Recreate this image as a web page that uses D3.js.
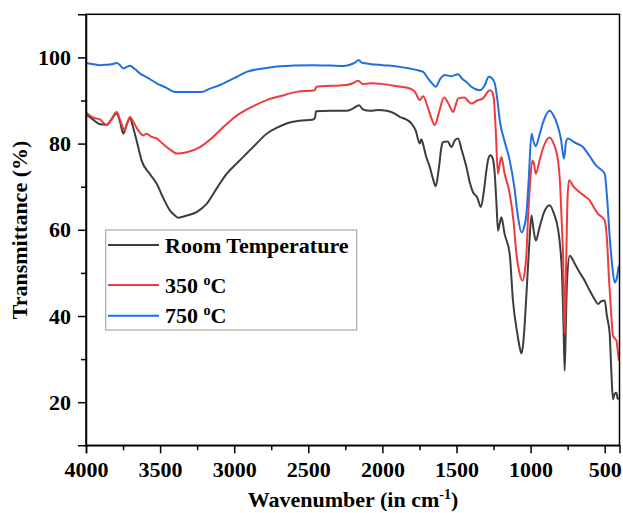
<!DOCTYPE html>
<html>
<head>
<meta charset="utf-8">
<script src="https://cdn.jsdelivr.net/npm/d3@7"></script>
<style>
  html, body { margin: 0; padding: 0; background: #fff; }
  svg { display: block; }
  text { font-family: "Liberation Serif", "Times New Roman", "DejaVu Serif", serif; font-weight: bold; fill: #000; }
</style>
</head>
<body>
<svg id="chart" width="623" height="513"></svg>
<script>
// ---- Data ----
const seriesNames = ["Room Temperature", "350 oC", "750 oC"];
const seriesColors = ["#3d3d3d", "#ef3b3d", "#1f6fe3"];

const rtWave = [4000,3950,3906,3860,3830,3793,3770,3748,3725,3703,3680,3650,3625,3570,3523,3480,3434,3400,3377,3320,3254,3186,3120,3051,2980,2916,2850,2781,2710,2647,2560,2467,2455,2448,2350,2242,2200,2157,2130,2085,2030,1972,1920,1883,1840,1804,1775,1748,1738,1730,1705,1680,1660,1640,1620,1600,1590,1560,1534,1510,1489,1465,1433,1410,1388,1360,1336,1315,1298,1285,1271,1255,1242,1230,1220,1208,1197,1175,1141,1119,1090,1075,1062,1050,1040,1028,1010,994,980,965,940,910,871,845,815,800,788,778,770,762,754,736,700,669,640,601,570,545,520,500,485,466,455,444,432,421,412,404];
const rtT = [86.8,85.5,84.5,84.4,85.5,87.0,85.0,82.3,84.5,85.8,83.5,79.5,76.1,73.0,70.7,67.5,64.5,63.3,62.8,63.3,64.1,66.0,69.5,73.0,75.5,77.7,80.0,82.3,83.7,84.65,85.3,85.6,86.0,87.5,87.6,87.6,88.1,88.9,87.9,87.6,87.8,87.6,87.0,86.2,85.6,84.65,83.0,80.0,81.0,80.4,77.0,74.55,72.0,70.1,74.0,79.5,80.4,80.5,79.2,80.8,81.2,78.5,74.55,71.0,68.7,67.5,65.3,69.0,73.8,76.5,77.3,76.5,73.0,66.0,59.8,61.5,62.9,59.0,54.4,43.6,36.0,33.0,31.3,33.5,38.0,45.0,56.0,63.3,60.0,57.5,60.5,64.0,65.7,64.0,60.2,56.0,49.8,38.0,27.3,38.0,48.2,54.0,52.0,50.1,48.5,45.9,44.0,42.8,43.5,43.6,40.0,35.8,27.0,20.7,22.0,22.2,20.8,21.1];

const t350Wave = [4000,3950,3906,3860,3830,3793,3770,3740,3720,3703,3680,3650,3614,3591,3560,3523,3490,3456,3420,3388,3320,3231,3160,3096,3030,2961,2870,2781,2680,2579,2456,2445,2340,2242,2200,2164,2132,2080,1995,1900,1815,1780,1748,1725,1690,1665,1647,1620,1584,1550,1523,1505,1489,1444,1420,1399,1360,1321,1300,1276,1260,1247,1235,1220,1210,1197,1175,1141,1115,1096,1075,1055,1040,1028,1018,1005,988,977,965,940,910,871,845,815,800,790,781,770,760,752,741,710,669,635,601,570,545,520,500,485,470,455,444,432,421,412,404];
const t350T = [87.2,86.0,85.6,84.3,85.6,87.35,85.5,83.1,85.0,86.2,85.0,83.2,81.9,82.3,81.6,81.2,80.2,79.2,78.3,77.7,78.0,79.2,81.0,83.1,85.2,87.0,88.7,90.1,91.1,92.0,92.4,93.2,93.4,93.6,94.0,94.6,93.8,94.0,93.8,93.3,92.8,92.0,90.1,91.0,88.0,85.5,84.3,87.0,90.7,89.0,87.35,89.0,90.5,90.7,89.8,89.3,90.0,90.5,91.5,92.4,92.0,90.1,83.0,73.0,75.0,76.9,73.0,68.4,62.0,54.5,50.0,48.2,50.0,54.4,62.2,70.0,76.1,75.3,73.0,76.0,79.5,81.4,80.0,76.1,70.0,62.0,54.4,35.8,52.0,66.0,71.5,70.0,68.7,67.8,66.8,65.0,63.7,63.0,62.2,58.0,48.0,40.0,35.4,34.8,34.3,32.0,29.6];

const t750Wave = [4000,3950,3906,3860,3830,3793,3770,3748,3725,3703,3670,3636,3580,3523,3460,3400,3300,3220,3160,3096,3000,2916,2830,2737,2600,2467,2350,2265,2220,2185,2160,2140,2107,1995,1900,1815,1760,1725,1690,1660,1640,1610,1579,1534,1489,1460,1433,1400,1343,1310,1282,1265,1242,1220,1208,1175,1141,1110,1085,1062,1045,1028,1012,994,980,965,940,910,871,845,815,795,775,760,748,700,647,600,560,534,500,485,466,450,433,420,410,404];
const t750T = [98.7,98.4,98.2,98.3,98.4,98.7,98.2,97.4,97.8,98.05,97.3,96.3,95.2,94.0,93.0,92.0,92.0,92.0,92.8,93.6,95.2,96.65,97.3,97.8,98.1,98.2,98.1,98.0,98.3,98.8,99.4,98.8,98.6,98.2,97.9,97.4,97.0,96.65,95.0,93.8,93.2,95.0,95.9,95.65,96.1,95.0,94.3,93.2,92.4,93.5,95.5,95.3,94.0,89.0,85.4,80.5,76.1,70.0,63.0,59.4,60.5,63.7,72.0,82.3,80.5,79.4,82.0,85.5,87.6,86.5,83.9,81.0,76.5,80.5,81.2,80.2,79.2,77.0,75.0,74.2,73.0,68.0,58.3,52.0,47.8,48.5,50.5,51.7];

const xMajorTicks = [4000,3500,3000,2500,2000,1500,1000,500];
const xMinorTicks = [3750,3250,2750,2250,1750,1250,750];
const yMajorTicks = [20,40,60,80,100];
const yMinorTicks = [30,50,70,90];

// ---- Build ----
const svg = d3.select("#chart");
const x = d3.scaleLinear().domain([4000, 400]).range([86, 619.5]);
const y = d3.scaleLinear().domain([10, 110]).range([445.3, 14.3]);

const series = [
  { name: seriesNames[0], color: seriesColors[0], pts: rtWave.map((w, i) => [w, rtT[i]]) },
  { name: seriesNames[1], color: seriesColors[1], pts: t350Wave.map((w, i) => [w, t350T[i]]) },
  { name: seriesNames[2], color: seriesColors[2], pts: t750Wave.map((w, i) => [w, t750T[i]]) }
];

const line = d3.line().x(d => x(d[0])).y(d => y(d[1])).curve(d3.curveMonotoneX);

const plot = svg.append("g");
series.forEach(s => {
  plot.append("path").datum(s.pts)
    .attr("d", line)
    .attr("fill", "none")
    .attr("stroke", s.color)
    .attr("stroke-width", 2)
    .attr("stroke-linejoin", "round");
});

// Axes
const fs = 22;
svg.append("g").attr("transform", `translate(0,${y.range()[0]})`)
  .call(d3.axisBottom(x).tickValues(xMajorTicks).tickSize(8).tickPadding(8).tickFormat(d3.format("d")));
svg.append("g").attr("transform", `translate(0,${y.range()[0]})`)
  .call(d3.axisBottom(x).tickValues(xMinorTicks).tickSize(5).tickFormat(""))
  .select(".domain").remove();
svg.append("g").attr("transform", `translate(${x.range()[0]},0)`)
  .call(d3.axisLeft(y).tickValues(yMajorTicks).tickSize(8).tickPadding(7).tickFormat(d3.format("d")));
svg.append("g").attr("transform", `translate(${x.range()[0]},0)`)
  .call(d3.axisLeft(y).tickValues(yMinorTicks).tickSize(5).tickFormat(""))
  .select(".domain").remove();

svg.selectAll(".tick line").attr("stroke", "#000").attr("stroke-width", 1.5);
svg.selectAll(".domain").attr("stroke", "#000").attr("stroke-width", 1.5);
svg.selectAll(".tick text")
  .style("font-family", '"Liberation Serif", "Times New Roman", serif')
  .style("font-weight", "bold").style("font-size", fs + "px").attr("fill", "#000");

// Frame
svg.append("rect")
  .attr("x", x.range()[0]).attr("y", y.range()[1])
  .attr("width", x.range()[1] - x.range()[0]).attr("height", y.range()[0] - y.range()[1])
  .attr("fill", "none").attr("stroke", "#000").attr("stroke-width", 1.5);

// Axis titles
const xt = svg.append("text").attr("x", 353).attr("y", 507).attr("text-anchor", "middle")
  .style("font-size", fs + "px");
xt.append("tspan").text("Wavenumber (in cm");
xt.append("tspan").attr("dy", -8).style("font-size", "14px").text("-1");
xt.append("tspan").attr("dy", 8).text(")");

svg.append("text").attr("transform", "translate(27,230) rotate(-90)")
  .attr("text-anchor", "middle").style("font-size", fs + "px").text("Transmittance (%)");

// Legend
const lg = svg.append("g");
lg.append("rect").attr("x", 105.7).attr("y", 230).attr("width", 251).attr("height", 100)
  .attr("fill", "#fff").attr("stroke", "#9a9a9a").attr("stroke-width", 1);
const lgRows = [245, 285, 315.7];
series.forEach((s, i) => {
  lg.append("line").attr("x1", 108).attr("x2", 159).attr("y1", lgRows[i]).attr("y2", lgRows[i])
    .attr("stroke", s.color).attr("stroke-width", 2);
  const t = lg.append("text").attr("x", 165).attr("y", lgRows[i] + 7.5).style("font-size", fs + "px");
  if (i === 0) {
    t.text(s.name);
  } else {
    const parts = s.name.split(" ");
    t.append("tspan").text(parts[0] + " ");
    t.append("tspan").attr("dy", -8).style("font-size", "14px").text("o");
    t.append("tspan").attr("dy", 8).text("C");
  }
});
</script>
</body>
</html>
